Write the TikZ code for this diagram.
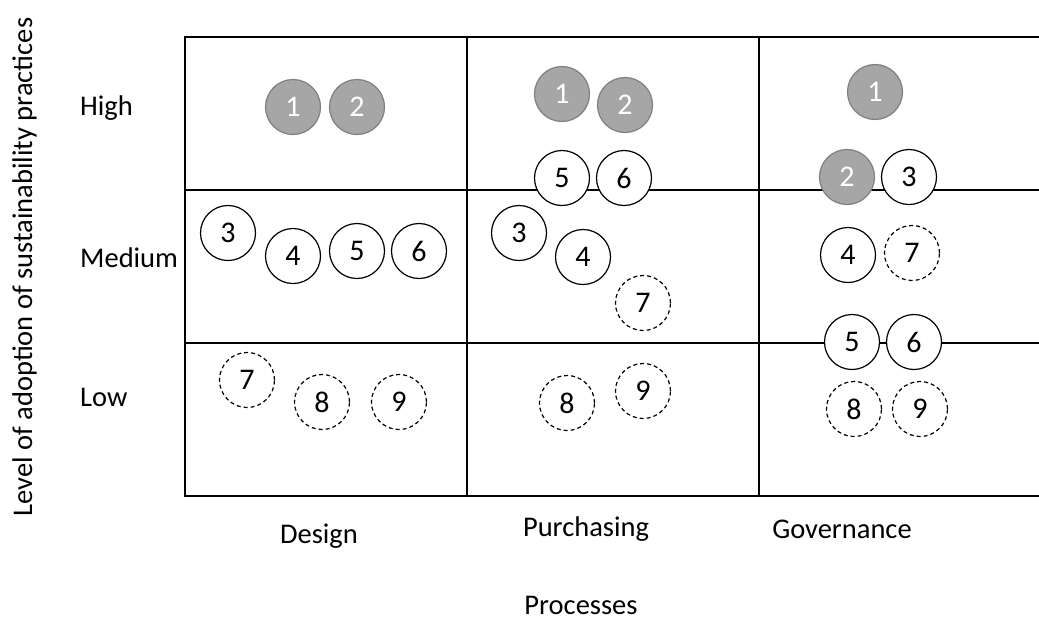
\documentclass[tikz,border=0pt]{standalone}
\usepackage{fontspec}
\setmainfont{Carlito}
\definecolor{dotfill}{HTML}{A6A6A6}
\definecolor{dotline}{HTML}{808080}
\begin{document}
\begin{tikzpicture}[x=1pt,y=-1pt,
  gridline/.style={line width=1.5pt,black},
  dot/.style={circle,minimum size=55pt,inner sep=0pt,font=\fontsize{30}{30}\selectfont},
  fulldot/.style={dot,draw=dotline,fill=dotfill,text=white,line width=1.2pt},
  opendot/.style={dot,draw=black,fill=white,line width=1.2pt},
  dashdot/.style={dot,draw=black,fill=white,line width=1.2pt,dash pattern=on 4pt off 3pt},
  lbl/.style={font=\fontsize{28.5}{28.5}\selectfont,inner sep=0pt}]
\useasboundingbox (0,0) rectangle (1039,622);
% grid
\coordinate (tl) at (185,37);
\coordinate (tr) at (1039,37);
\coordinate (m1l) at (185,190);
\coordinate (m1r) at (1039,190);
\coordinate (m2l) at (185,343);
\coordinate (m2r) at (1039,343);
\coordinate (bl) at (185,496);
\coordinate (br) at (1039,496);
\coordinate (c1t) at (467,37);
\coordinate (c1b) at (467,496);
\coordinate (c2t) at (759,37);
\coordinate (c2b) at (759,496);
\draw[gridline] (tr) -- (tl) -- (bl) -- (br);
\draw[gridline] (m1l) -- (m1r);
\draw[gridline] (m2l) -- (m2r);
\draw[gridline] (c1t) -- (c1b);
\draw[gridline] (c2t) -- (c2b);
% Design
\node[fulldot] (d1) at (293,107) {1};
\node[fulldot] (d2) at (357,107) {2};
\node[opendot] (d3) at (228,233) {3};
\node[opendot] (d4) at (293,256) {4};
\node[opendot] (d5) at (357,251) {5};
\node[opendot] (d6) at (419,251) {6};
\node[dashdot] (d7) at (247,380) {7};
\node[dashdot] (d8) at (322,402) {8};
\node[dashdot] (d9) at (399,402) {9};
% Purchasing
\node[fulldot] (p1) at (562,94) {1};
\node[fulldot] (p2) at (625,105) {2};
\node[opendot] (p5) at (562,178) {5};
\node[opendot] (p6) at (624,178) {6};
\node[opendot] (p3) at (519,233) {3};
\node[opendot] (p4) at (583,257) {4};
\node[dashdot] (p7) at (643,303) {7};
\node[dashdot] (p8) at (567,403) {8};
\node[dashdot] (p9) at (643,391) {9};
% Governance
\node[fulldot] (g1) at (875,92) {1};
\node[fulldot] (g2) at (847,177) {2};
\node[opendot] (g3) at (909,177) {3};
\node[opendot] (g4) at (848,255) {4};
\node[dashdot] (g7) at (912,253) {7};
\node[opendot] (g5) at (852,342) {5};
\node[opendot] (g6) at (914,342) {6};
\node[dashdot] (g8) at (854,409) {8};
\node[dashdot] (g9) at (920,409) {9};
% labels
\node[lbl,anchor=west] (lh) at (80,108) {High};
\node[lbl,anchor=west] (lm) at (80,258) {Medium};
\node[lbl,anchor=west] (ll) at (80,397) {Low};
\node[lbl] (ld) at (319,536) {Design};
\node[lbl] (lp) at (586,529) {Purchasing};
\node[lbl] (lg) at (842,529) {Governance};
\node[lbl,anchor=base] (lx) at (581,614) {Processes};
\node[lbl,rotate=90,anchor=base] (ly) at (32,267) {Level of adoption of sustainability practices};
\end{tikzpicture}
\end{document}
